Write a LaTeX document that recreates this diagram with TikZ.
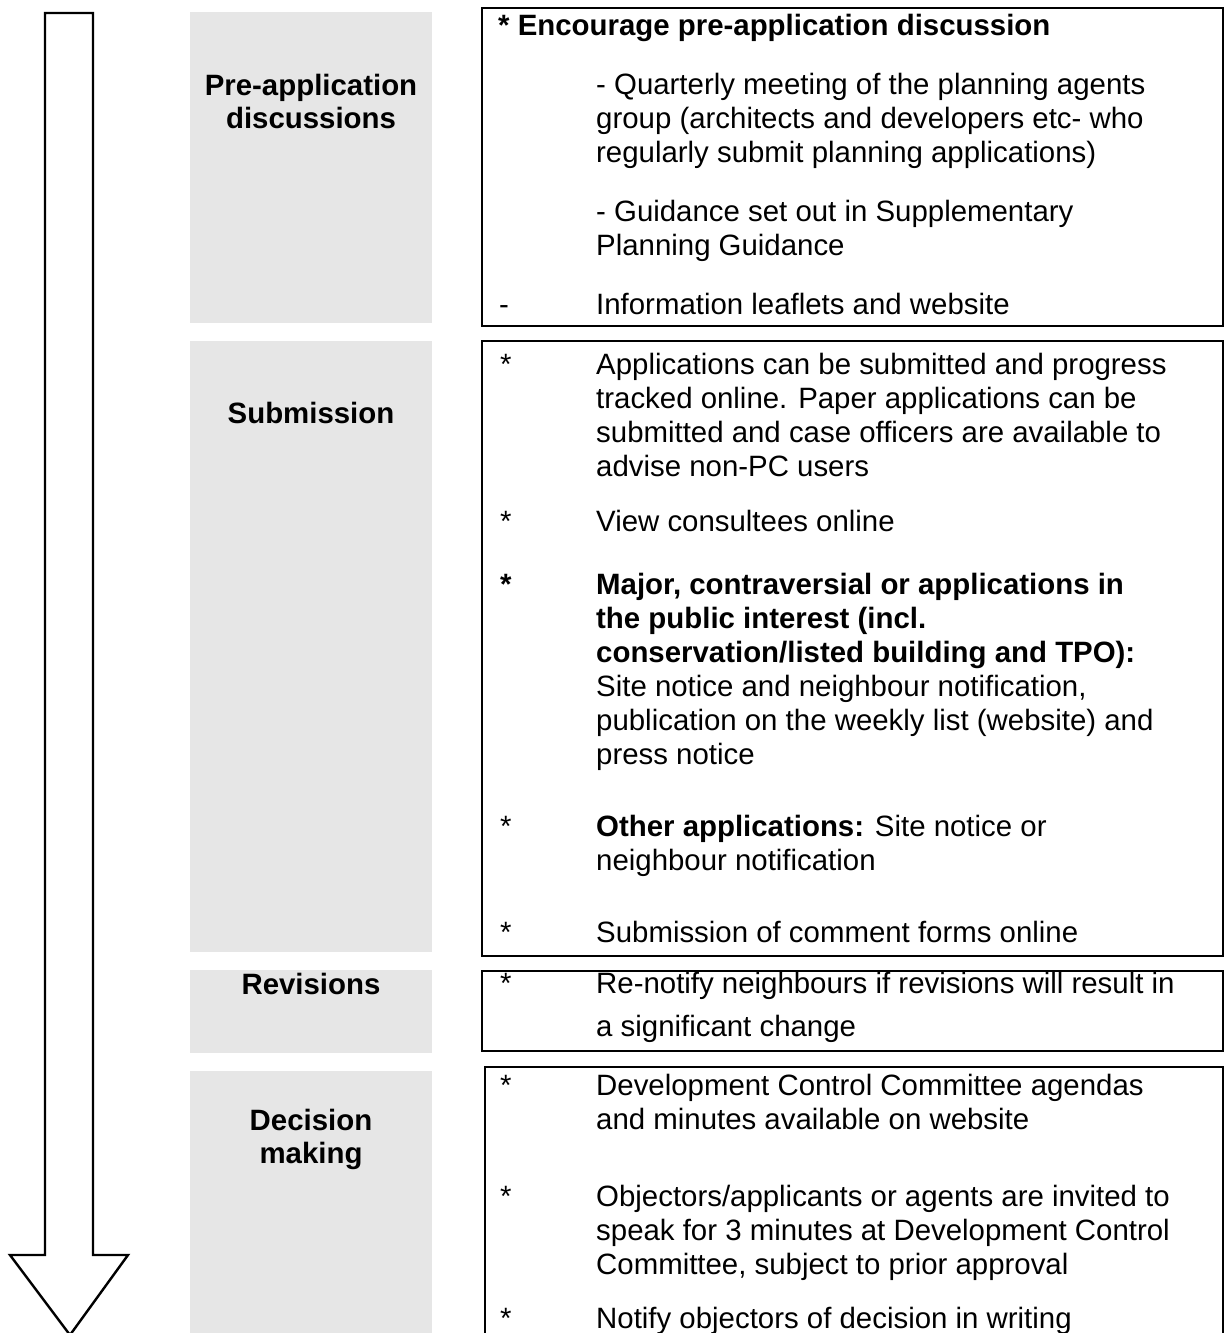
\documentclass[tikz,border=0pt]{standalone}
\usepackage{fontspec}
\setmainfont{Liberation Sans}
\definecolor{boxgray}{RGB}{230,230,230}
\newcommand{\mybodyfont}{\fontsize{29.4}{34}\selectfont}
\begin{document}
\begin{tikzpicture}[x=1pt,y=-1pt,
  stagebox/.style={fill=boxgray, draw=none},
  framebox/.style={draw=black, line width=2.8pt},
  stagelabel/.style={font=\mybodyfont\bfseries, anchor=base, inner sep=0pt},
  itemtext/.style={font=\mybodyfont, anchor=base west, inner sep=0pt},
  itembold/.style={font=\mybodyfont\bfseries, anchor=base west, inner sep=0pt},
  flowarrow/.style={draw=black, line width=2.4pt, fill=white, line join=miter}]
\useasboundingbox (0,0) rectangle (1227,1333);

% big arrow
\draw[flowarrow] (45,13) -- (93,13) -- (93,1255) -- (128,1255) -- (70,1335) -- (10,1255) -- (45,1255) -- cycle;

% grey stage boxes
\path[stagebox] (190,12) rectangle (432,323);
\path[stagebox] (190,341) rectangle (432,952);
\path[stagebox] (190,970) rectangle (432,1053);
\path[stagebox] (190,1071) rectangle (432,1340);

\node[stagelabel] (l1a) at (311,95) {Pre-application};
\node[stagelabel] (l1b) at (311,128) {discussions};
\node[stagelabel] (l2) at (311,423) {Submission};
\node[stagelabel] (l3) at (311,994) {Revisions};
\node[stagelabel] (l4a) at (311,1130) {Decision};
\node[stagelabel] (l4b) at (311,1163) {making};

% framed boxes
\draw[framebox] (482,8) rectangle (1223,326);
\draw[framebox] (482,341) rectangle (1223,956);
\draw[framebox] (482,971) rectangle (1223,1051);
\draw[framebox] (485,1345) -- (485,1067) -- (1223,1067) -- (1223,1345);

% box 1
\node[itembold] (a0) at (498,35) {* Encourage pre-application discussion};
\node[itemtext] (a1) at (596,94) {- Quarterly meeting of the planning agents};
\node[itemtext] (a2) at (596,128) {group (architects and developers etc- who};
\node[itemtext] (a3) at (596,162) {regularly submit planning applications)};
\node[itemtext] (a4) at (596,221) {- Guidance set out in Supplementary};
\node[itemtext] (a5) at (596,255) {Planning Guidance};
\node[itemtext] (a6d) at (499,314) {-};
\node[itemtext] (a6) at (596,314) {Information leaflets and website};

% box 2
\node[itemtext] (b1s) at (500,374) {*};
\node[itemtext] (b1a) at (596,374) {Applications can be submitted and progress};
\node[itemtext] (b1b) at (596,408) {tracked online. Paper applications can be};
\node[itemtext] (b1c) at (596,442) {submitted and case officers are available to};
\node[itemtext] (b1d) at (596,476) {advise non-PC users};
\node[itemtext] (b2s) at (500,531) {*};
\node[itemtext] (b2a) at (596,531) {View consultees online};
\node[itembold] (b3s) at (500,594) {*};
\node[itembold] (b3a) at (596,594) {Major, contraversial or applications in};
\node[itembold] (b3b) at (596,628) {the public interest (incl.};
\node[itembold] (b3c) at (596,662) {conservation/listed building and TPO):};
\node[itemtext] (b3d) at (596,696) {Site notice and neighbour notification,};
\node[itemtext] (b3e) at (596,730) {publication on the weekly list (website) and};
\node[itemtext] (b3f) at (596,764) {press notice};
\node[itemtext] (b4s) at (500,836) {*};
\node[itemtext] (b4a) at (596,836) {\textbf{Other applications:} Site notice or};
\node[itemtext] (b4b) at (596,870) {neighbour notification};
\node[itemtext] (b5s) at (500,942) {*};
\node[itemtext] (b5a) at (596,942) {Submission of comment forms online};

% box 3
\node[itemtext] (c1s) at (500,993) {*};
\node[itemtext] (c1a) at (596,993) {Re-notify neighbours if revisions will result in};
\node[itemtext] (c1b) at (596,1036) {a significant change};

% box 4
\node[itemtext] (d1s) at (500,1095) {*};
\node[itemtext] (d1a) at (596,1095) {Development Control Committee agendas};
\node[itemtext] (d1b) at (596,1129) {and minutes available on website};
\node[itemtext] (d2s) at (500,1206) {*};
\node[itemtext] (d2a) at (596,1206) {Objectors/applicants or agents are invited to};
\node[itemtext] (d2b) at (596,1240) {speak for 3 minutes at Development Control};
\node[itemtext] (d2c) at (596,1274) {Committee, subject to prior approval};
\node[itemtext] (d3s) at (500,1328) {*};
\node[itemtext] (d3a) at (596,1328) {Notify objectors of decision in writing};
\end{tikzpicture}
\end{document}
